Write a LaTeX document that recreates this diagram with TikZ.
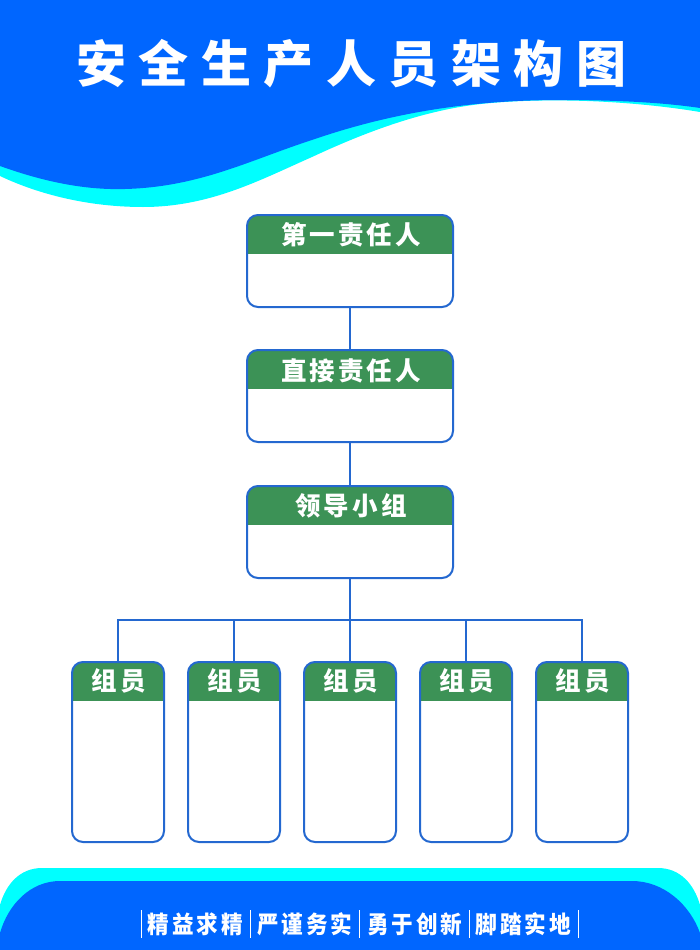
\documentclass[tikz,border=0pt]{standalone}
\usepackage{fontspec}
\setmainfont{Noto Sans CJK SC}
\newfontfamily\titlefont[LetterSpace=25,BoldFont={Noto Sans CJK SC Black}]{Noto Sans CJK SC}
\newfontfamily\headfont[LetterSpace=12]{Noto Sans CJK SC}
\newfontfamily\footfont[LetterSpace=12,FakeStretch=0.9]{Noto Sans CJK SC}
\definecolor{bandblue}{RGB}{0,102,255}
\definecolor{bandcyan}{RGB}{0,255,255}
\definecolor{headgreen}{RGB}{60,146,86}
\definecolor{linkblue}{RGB}{36,104,208}
\tikzset{
  x=1pt,y=-1pt,
  orgbox/.style={draw=linkblue,line width=2pt,fill=white,rounded corners=11pt,inner sep=0pt,outer sep=0pt,
    path picture={\fill[headgreen,sharp corners] (path picture bounding box.north west) rectangle ([yshift=-39pt]path picture bounding box.north east);}},
  bigbox/.style={orgbox,minimum width=206pt,minimum height=92pt},
  memberbox/.style={orgbox,minimum width=92pt,minimum height=180pt},
  headtext/.style={text=white,font=\headfont\bfseries\fontsize{25.5}{26}\selectfont,inner sep=0pt},
  foottext/.style={text=white,font=\footfont\bfseries\fontsize{24}{24}\selectfont,inner sep=0pt},
  link/.style={draw=linkblue,line width=2pt},
  sep/.style={draw=white,line width=0.8pt}
}
\begin{document}
\begin{tikzpicture}
\useasboundingbox (0,0) rectangle (700,950);
\fill[white] (0,0) rectangle (700,950);
% top band
\fill[bandcyan] (0,0) -- (0,176) .. controls (40,195) and (90,207) .. (143,207) .. controls (210,207) and (260,180) .. (312,157) .. controls (370,130) and (430,108) .. (491,103) .. controls (560,97) and (640,102) .. (700,112) -- (700,0) -- cycle;
\fill[bandblue] (0,0) -- (0,166) .. controls (50,184) and (90,190) .. (125,189) .. controls (200,187) and (250,160) .. (312,140) .. controls (390,113) and (470,100) .. (560,100) .. controls (610,100) and (660,102) .. (700,108) -- (700,0) -- cycle;
\node[text=white,font=\titlefont\bfseries\fontsize{50}{50}\selectfont,inner sep=0pt] (title) at (351,64) {安全生产人员架构图};
% bottom band
\fill[bandcyan] (0,950) -- (0,905) .. controls (6,884) and (20,868) .. (42,868) -- (658,868) .. controls (680,868) and (694,884) .. (700,905) -- (700,950) -- cycle;
\fill[bandblue] (0,950) -- (0,933) .. controls (8,905) and (30,881) .. (60,881) -- (632,881) .. controls (664,881) and (690,905) .. (700,933) -- (700,950) -- cycle;
\foreach \n/\x in {s1/141,s2/250,s3/359,s4/469,s5/578}{
  \coordinate (\n a) at (\x,910);
  \coordinate (\n b) at (\x,938);
  \draw[sep] (\n a) -- (\n b);
}
\node[foottext] (f1) at (195.5,924) {精益求精};
\node[foottext] (f2) at (305,924) {严谨务实};
\node[foottext] (f3) at (415,924) {勇于创新};
\node[foottext] (f4) at (523.5,924) {脚踏实地};
% connector bus
\coordinate (bus) at (350,620);
% boxes
\node[bigbox] (b1) at (350,261) {};
\node[bigbox] (b2) at (350,396) {};
\node[bigbox] (b3) at (350,532) {};
\node[headtext] (t1) at (351,235) {第一责任人};
\node[headtext] (t2) at (351,371) {直接责任人};
\node[headtext] (t3) at (351,506) {领导小组};
\foreach \i/\x in {1/118,2/234,3/350,4/466,5/582}{
  \node[memberbox] (m\i) at (\x,752) {};
  \node[headtext] (mt\i) at (\x+0.5,681) {组员};
}
% connectors
\draw[link] (b1) -- (b2);
\draw[link] (b2) -- (b3);
\draw[link] (b3) -- (m3);
\draw[link] (m1.north) |- (bus) -| (m5.north);
\draw[link] (m2.north) -- (m2.north |- bus);
\draw[link] (m4.north) -- (m4.north |- bus);
\end{tikzpicture}
\end{document}
